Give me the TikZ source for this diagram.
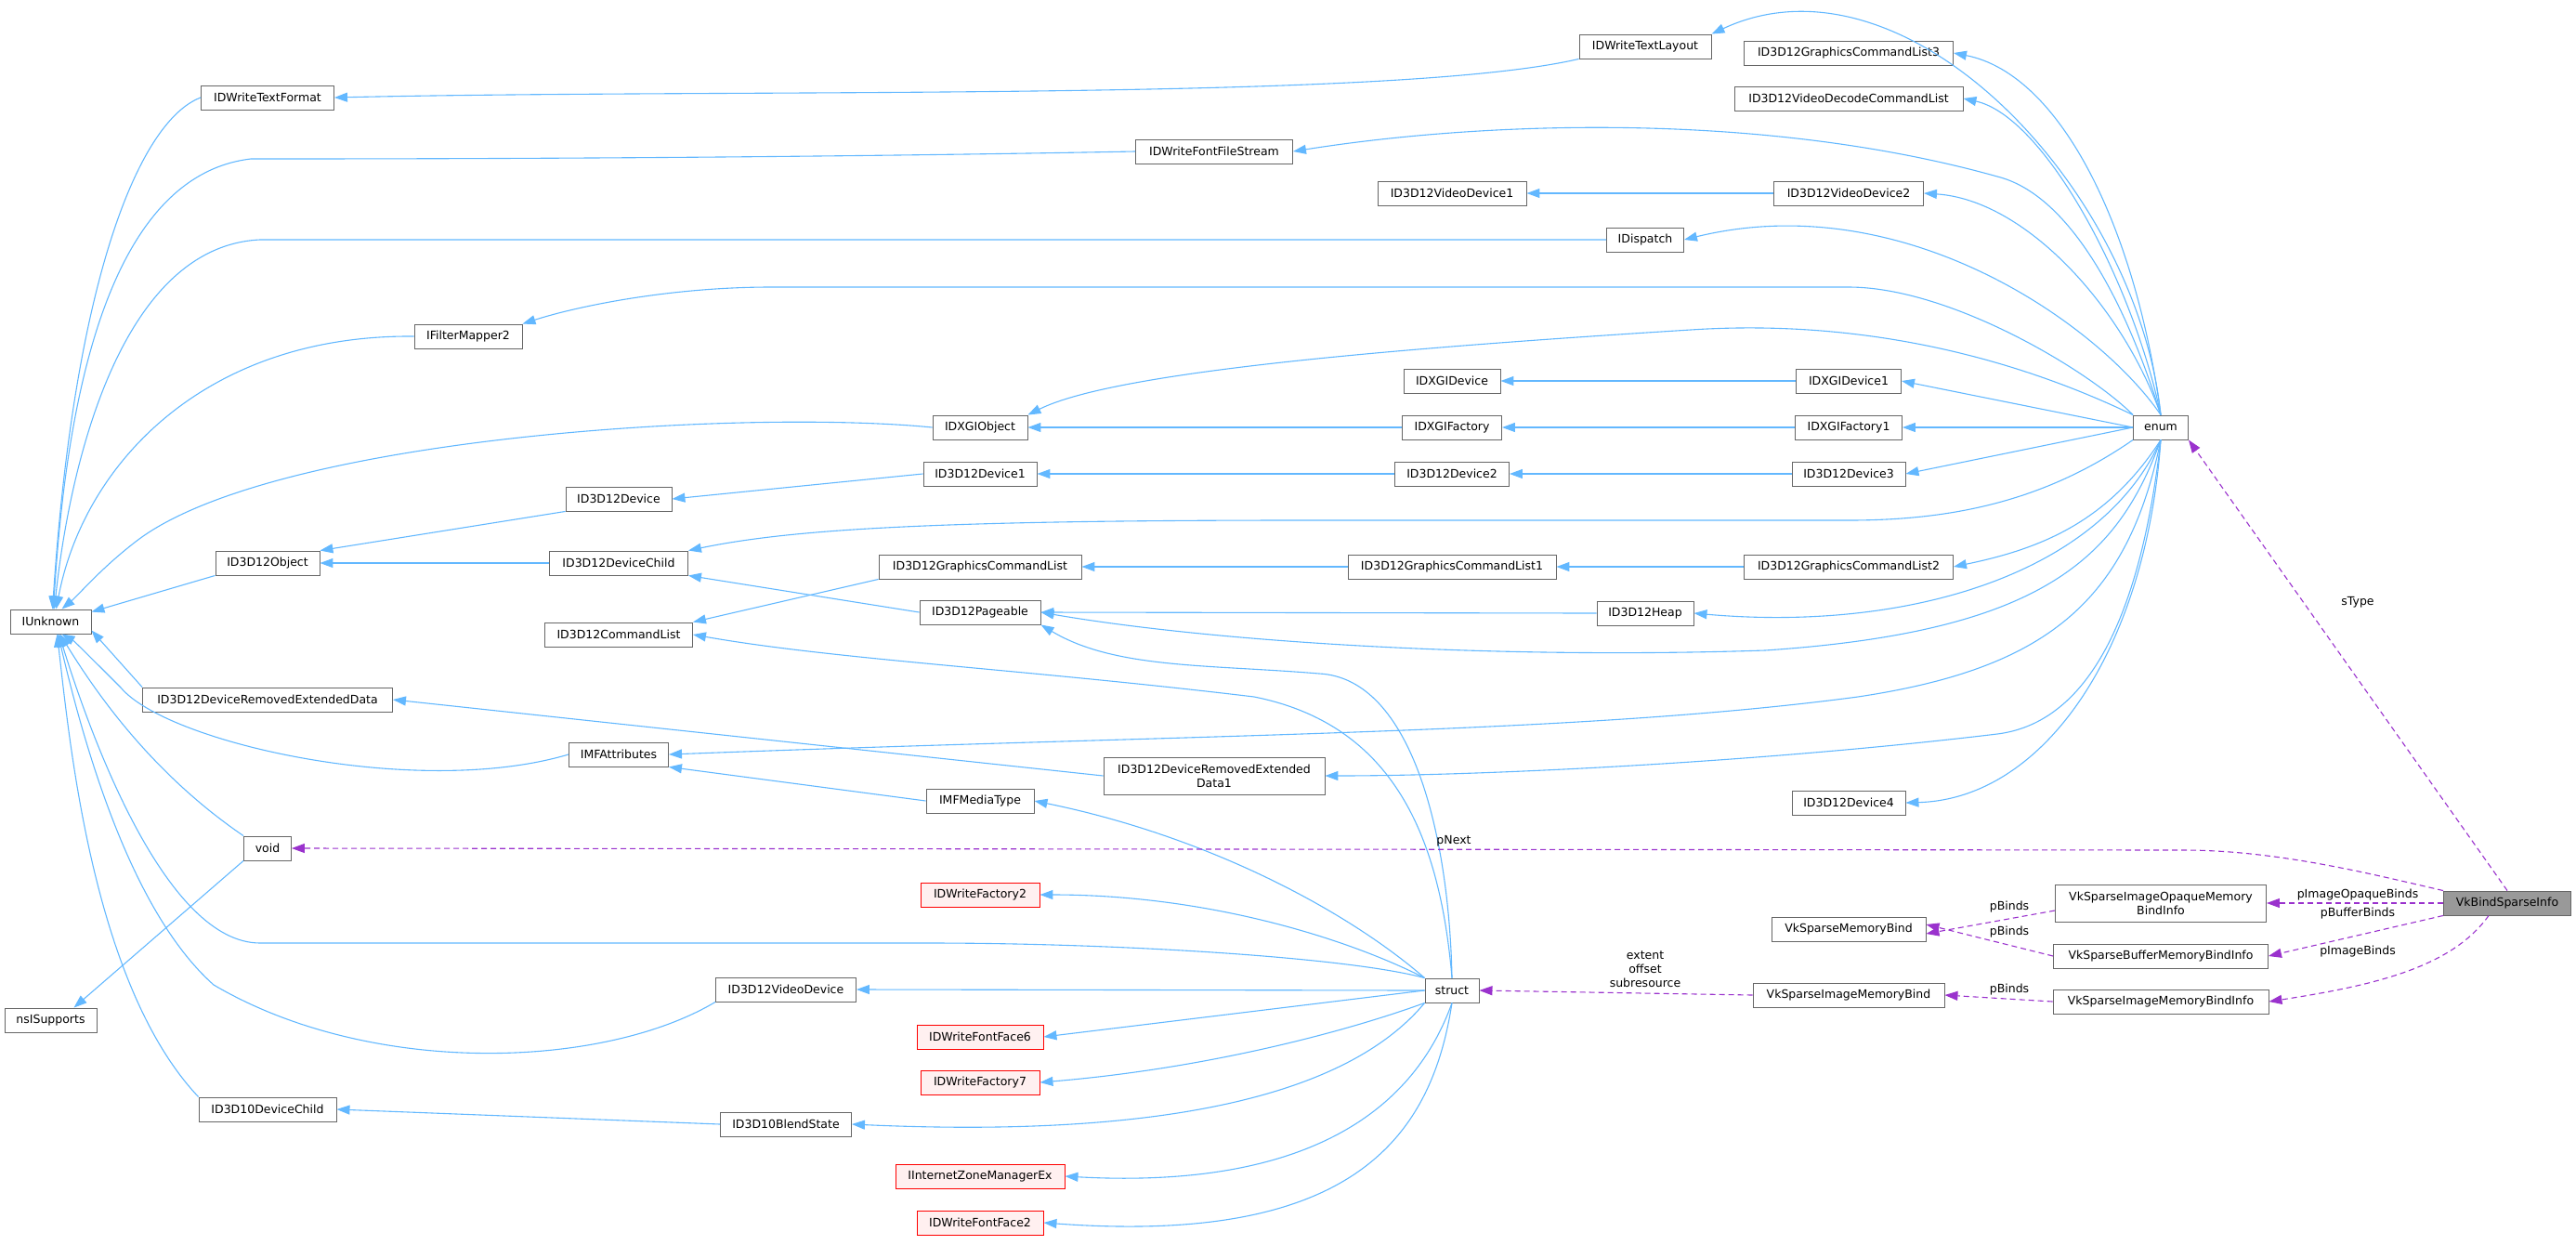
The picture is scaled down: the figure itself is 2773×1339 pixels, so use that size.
\documentclass[tikz,border=0pt]{standalone}
\usepackage{fontspec}
\setmainfont{DejaVu Sans}
\usetikzlibrary{arrows.meta}
\definecolor{eblue}{HTML}{63B8FF}
\definecolor{epurp}{HTML}{9A32CD}
\begin{document}
\begin{tikzpicture}[x=1pt,y=-1pt,
  box/.style={draw=black!60,line width=0.9pt,fill=white,minimum height=26pt,inner sep=0pt,font=\fontsize{12.5}{15}\selectfont,align=center},
  red/.style={box,draw=red,fill=red!6},
  bl/.style={draw=eblue,line width=1.1pt,-{Triangle[length=14pt,width=10pt]}},
  pu/.style={draw=epurp,line width=1.1pt,dash pattern=on 6pt off 4pt,-{Triangle[length=14pt,width=10pt]}},
  lb/.style={font=\fontsize{12.5}{15}\selectfont,inner sep=0pt}]
\useasboundingbox (0,0) rectangle (2773,1339);
% nodes
\node[box,minimum width=87] (IUnknown) at (54.5,669) {IUnknown};
\node[box,minimum width=143] (TF) at (288,105) {IDWriteTextFormat};
\node[box,minimum width=169] (FFS) at (1307,163) {IDWriteFontFileStream};
\node[box,minimum width=116] (FM2) at (504,362) {IFilterMapper2};
\node[box,minimum width=102] (DXO) at (1055,460) {IDXGIObject};
\node[box,minimum width=122] (D1) at (1055,510) {ID3D12Device1};
\node[box,minimum width=114] (D0) at (666,537) {ID3D12Device};
\node[box,minimum width=112] (Obj) at (288,606) {ID3D12Object};
\node[box,minimum width=149] (DC) at (666,606) {ID3D12DeviceChild};
\node[box,minimum width=218] (GCL) at (1055,610) {ID3D12GraphicsCommandList};
\node[box,minimum width=130] (Pag) at (1055,659) {ID3D12Pageable};
\node[box,minimum width=159] (CL) at (666,683) {ID3D12CommandList};
\node[box,minimum width=269] (DRED) at (288,753) {ID3D12DeviceRemovedExtendedData};
\node[box,minimum width=107] (MFA) at (666,812) {IMFAttributes};
\node[box,minimum width=238,minimum height=40] (DRED1) at (1307,835) {ID3D12DeviceRemovedExtended\\Data1};
\node[box,minimum width=116] (MFT) at (1055,862) {IMFMediaType};
\node[box,minimum width=51] (void) at (288,913) {void};
\node[red,minimum width=128] (WF2) at (1055,963) {IDWriteFactory2};
\node[box,minimum width=99] (nsi) at (54.5,1098) {nsISupports};
\node[box,minimum width=151] (VD) at (846,1065) {ID3D12VideoDevice};
\node[red,minimum width=136] (FF6) at (1055,1116) {IDWriteFontFace6};
\node[red,minimum width=128] (WF7) at (1055,1165) {IDWriteFactory7};
\node[box,minimum width=148] (D10DC) at (288,1194) {ID3D10DeviceChild};
\node[box,minimum width=141] (BS) at (846,1210) {ID3D10BlendState};
\node[red,minimum width=182] (IZM) at (1055,1266) {IInternetZoneManagerEx};
\node[red,minimum width=136] (FF2) at (1055,1316) {IDWriteFontFace2};
\node[box,minimum width=142] (TL) at (1771,50) {IDWriteTextLayout};
\node[box,minimum width=225] (GCL3) at (1990,57) {ID3D12GraphicsCommandList3};
\node[box,minimum width=246] (VDCL) at (1990,106) {ID3D12VideoDecodeCommandList};
\node[box,minimum width=160] (VD1) at (1563,208) {ID3D12VideoDevice1};
\node[box,minimum width=161] (VD2) at (1990,208) {ID3D12VideoDevice2};
\node[box,minimum width=83] (Disp) at (1771,258) {IDispatch};
\node[box,minimum width=104] (DXD) at (1563,410) {IDXGIDevice};
\node[box,minimum width=113] (DXD1) at (1990,410) {IDXGIDevice1};
\node[box,minimum width=107] (DXF) at (1563,460) {IDXGIFactory};
\node[box,minimum width=115] (DXF1) at (1990,460) {IDXGIFactory1};
\node[box,minimum width=59] (enum) at (2326,460) {enum};
\node[box,minimum width=123] (D2) at (1563,510) {ID3D12Device2};
\node[box,minimum width=122] (D3) at (1990,510) {ID3D12Device3};
\node[box,minimum width=224] (GCL1) at (1563,610) {ID3D12GraphicsCommandList1};
\node[box,minimum width=225] (GCL2) at (1990,610) {ID3D12GraphicsCommandList2};
\node[box,minimum width=104] (Heap) at (1771,660) {ID3D12Heap};
\node[box,minimum width=122] (D4) at (1990,864) {ID3D12Device4};
\node[box,minimum width=58] (struct) at (1563,1066) {struct};
\node[box,minimum width=166] (SMB) at (1990,1000) {VkSparseMemoryBind};
\node[box,minimum width=206] (SIMB) at (1990,1071) {VkSparseImageMemoryBind};
\node[box,minimum width=227,minimum height=40] (SIOMBI) at (2326,972) {VkSparseImageOpaqueMemory\\BindInfo};
\node[box,minimum width=231] (SBMBI) at (2326,1029) {VkSparseBufferMemoryBindInfo};
\node[box,minimum width=232] (SIMBI) at (2326,1078) {VkSparseImageMemoryBindInfo};
\node[box,minimum width=137,fill=black!40] (BSI) at (2699,972) {VkBindSparseInfo};
% edges to IUnknown
\draw[bl] (TF.west) .. controls (150,130) and (80,300) .. ([xshift=2]IUnknown.north);
\draw[bl] (FFS.west) .. controls (800,171) and (400,171) .. (270,171) .. controls (110,190) and (70,450) .. ([xshift=3]IUnknown.north);
\draw[bl] (Disp.west) -- (280,258) .. controls (130,265) and (75,500) .. ([xshift=4]IUnknown.north);
\draw[bl] (FM2.west) .. controls (220,360) and (90,500) .. ([xshift=6]IUnknown.north);
\draw[bl] (DXO.west) .. controls (800,440) and (300,470) .. (150,580) .. controls (110,610) and (85,640) .. ([xshift=12]IUnknown.north);
\draw[bl] (Obj.south west) -- ([yshift=-3]IUnknown.north east);
\draw[bl] (DRED.north west) -- ([yshift=4]IUnknown.south east);
\draw[bl] (MFA.west) .. controls (450,860) and (180,800) .. (130,740) .. controls (100,710) and (80,690) .. ([xshift=12]IUnknown.south);
\draw[bl] (void.north west) .. controls (160,830) and (100,740) .. ([xshift=10]IUnknown.south);
\draw[bl] (struct.north west) .. controls (1450,1030) and (1200,1015) .. (1000,1015) -- (280,1015) .. controls (180,1015) and (100,800) .. ([xshift=9]IUnknown.south);
\draw[bl] (VD.south west) .. controls (650,1150) and (400,1160) .. (230,1060) .. controls (140,980) and (90,800) .. ([xshift=8]IUnknown.south);
\draw[bl] (D10DC.north west) .. controls (100,1060) and (75,800) .. ([xshift=7]IUnknown.south);
\draw[bl] (void.south west) -- ([xshift=25]nsi.north);
% other inheritance
\draw[bl] (TL.south west) .. controls (1500,110) and (800,95) .. (TF.east);
\draw[bl] (D0.south west) -- (Obj.north east);
\draw[bl] (DC.west) -- (Obj.east);
\draw[bl] (D1.west) -- (D0.east);
\draw[bl] (Pag.west) -- (DC.south east);
\draw[bl] (GCL.south west) -- (CL.north east);
\draw[bl] (GCL1.west) -- (GCL.east);
\draw[bl] (GCL2.west) -- (GCL1.east);
\draw[bl] (D2.west) -- (D1.east);
\draw[bl] (D3.west) -- (D2.east);
\draw[bl] (DXF.west) -- (DXO.east);
\draw[bl] (DXF1.west) -- (DXF.east);
\draw[bl] (DXD1.west) -- (DXD.east);
\draw[bl] (VD2.west) -- (VD1.east);
\draw[bl] (Heap.west) -- (Pag.east);
\draw[bl] (DRED1.west) -- (DRED.east);
\draw[bl] (MFT.west) -- (MFA.south east);
\draw[bl] (BS.west) -- (D10DC.east);
% enum edges
\draw[bl] (enum.north) .. controls (2300,200) and (2050,-60) .. (TL.north east);
\draw[bl] (enum.north) .. controls (2300,250) and (2220,80) .. (GCL3.east);
\draw[bl] (enum.north) .. controls (2295,300) and (2200,125) .. (VDCL.east);
\draw[bl] (enum.north) .. controls (2290,330) and (2230,210) .. (2150,190) .. controls (1900,120) and (1600,130) .. (FFS.east);
\draw[bl] (enum.north) .. controls (2285,330) and (2180,215) .. (VD2.east);
\draw[bl] (enum.north) .. controls (2260,350) and (2050,200) .. (Disp.east);
\draw[bl] (enum.north west) .. controls (2250,400) and (2100,309) .. (1990,309) -- (830,309) .. controls (720,309) and (620,330) .. (FM2.north east);
\draw[bl] (enum.north west) .. controls (2220,410) and (2050,340) .. (1820,355) .. controls (1500,375) and (1200,400) .. (DXO.north east);
\draw[bl] (enum.west) -- (DXD1.east);
\draw[bl] (enum.west) -- (DXF1.east);
\draw[bl] (enum.west) -- (D3.east);
\draw[bl] (enum.south west) .. controls (2200,540) and (2100,560) .. (1990,560) -- (1400,560) .. controls (1000,560) and (850,570) .. (DC.north east);
\draw[bl] (enum.south) .. controls (2270,560) and (2200,590) .. (GCL2.east);
\draw[bl] (enum.south) .. controls (2260,620) and (2050,680) .. (Heap.east);
\draw[bl] (enum.south) .. controls (2280,600) and (2200,680) .. (1900,700) .. controls (1600,710) and (1300,690) .. (Pag.east);
\draw[bl] (enum.south) .. controls (2290,650) and (2200,720) .. (2000,750) .. controls (1700,790) and (1300,790) .. (MFA.east);
\draw[bl] (enum.south) .. controls (2300,700) and (2230,780) .. (2150,790) .. controls (1900,820) and (1600,835) .. (DRED1.east);
\draw[bl] (enum.south) .. controls (2310,700) and (2200,860) .. (D4.east);
% struct edges
\draw[bl] (struct.north) .. controls (1560,900) and (1520,730) .. (1420,725) .. controls (1300,715) and (1200,720) .. (Pag.south east);
\draw[bl] (struct.north) .. controls (1550,900) and (1500,780) .. (1350,750) .. controls (1100,720) and (900,710) .. (CL.east);
\draw[bl] (struct.north west) .. controls (1450,980) and (1300,900) .. (MFT.east);
\draw[bl] (struct.north west) .. controls (1450,1010) and (1300,963) .. (WF2.east);
\draw[bl] (struct.west) -- (VD.east);
\draw[bl] (struct.west) -- (FF6.east);
\draw[bl] (struct.south west) .. controls (1450,1110) and (1300,1150) .. (WF7.east);
\draw[bl] (struct.south west) .. controls (1450,1180) and (1250,1225) .. (BS.east);
\draw[bl] (struct.south) .. controls (1520,1200) and (1400,1280) .. (IZM.east);
\draw[bl] (struct.south) .. controls (1540,1230) and (1450,1340) .. (FF2.east);
% purple
\draw[pu] (BSI.north) -- (enum.south east);
\draw[pu] (BSI.north west) .. controls (2550,940) and (2450,915) .. (2350,915) -- (void.east);
\draw[pu] (BSI.west) -- (SIOMBI.east);
\draw[pu] (BSI.south west) -- (SBMBI.east);
\draw[pu] ([xshift=-20]BSI.south) .. controls (2640,1040) and (2560,1060) .. (SIMBI.east);
\draw[pu] ([yshift=-8]SIOMBI.west) -- ([yshift=-5]SMB.east);
\draw[pu] (SBMBI.west) -- ([yshift=5]SMB.east);
\draw[pu] (SIMBI.west) -- (SIMB.east);
\draw[pu] (SIMB.west) -- (struct.east);
% labels
\node[lb] (l1) at (2538,648) {sType};
\node[lb] (l2) at (1565,905) {pNext};
\node[lb] (l3) at (2538,963) {pImageOpaqueBinds};
\node[lb] (l4) at (2538,983) {pBufferBinds};
\node[lb] (l5) at (2538,1024) {pImageBinds};
\node[lb] (l6) at (2163,976) {pBinds};
\node[lb] (l7) at (2163,1003) {pBinds};
\node[lb] (l8) at (2163,1065) {pBinds};
\node[lb,align=center] (l9) at (1771,1043) {extent\\offset\\subresource};
\end{tikzpicture}
\end{document}
